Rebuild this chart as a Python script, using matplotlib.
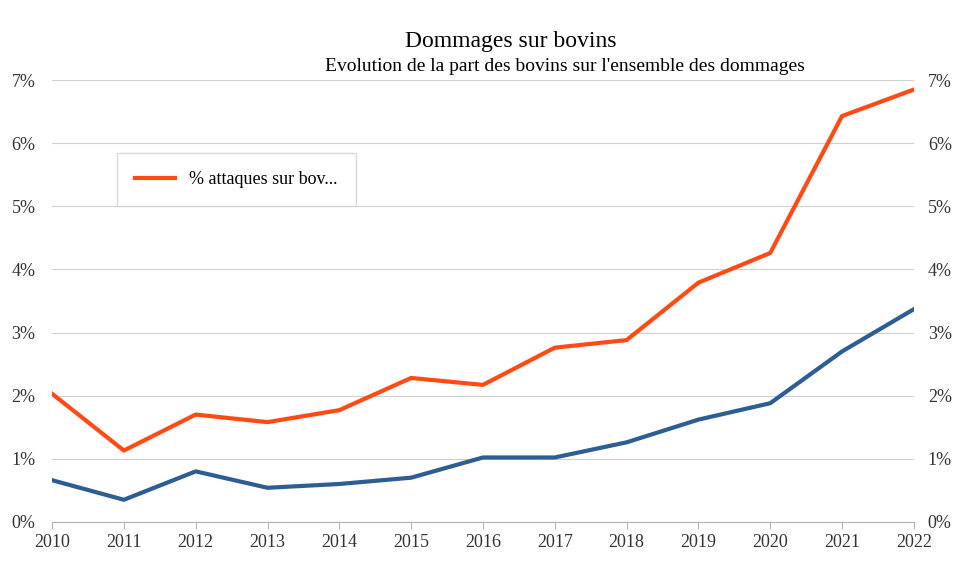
import matplotlib.pyplot as plt
from matplotlib.ticker import FuncFormatter

years = [2010, 2011, 2012, 2013, 2014, 2015, 2016, 2017, 2018, 2019, 2020, 2021, 2022]
pct_attaques = [2.03, 1.13, 1.70, 1.58, 1.77, 2.28, 2.17, 2.76, 2.88, 3.79, 4.26, 6.43, 6.85]
pct_bovins = [0.66, 0.35, 0.80, 0.54, 0.60, 0.70, 1.02, 1.02, 1.26, 1.62, 1.88, 2.70, 3.37]

plt.rcParams["font.family"] = ["Liberation Serif", "DejaVu Serif"]

fig = plt.figure(figsize=(9.64, 5.76), dpi=100)
ax = fig.add_axes([0.054, 0.094, 0.894, 0.767])

ax.plot(years, pct_attaques, color="#ff4a14", lw=3, label="% attaques sur bov...")
ax.plot(years, pct_bovins, color="#2c5d94", lw=3)

ax.set_xlim(2010, 2022)
ax.set_ylim(0, 7)
ax.set_xticks(years)
ax.set_yticks(range(0, 8))
fmt = FuncFormatter(lambda v, p: f"{int(v)}%")
ax.yaxis.set_major_formatter(fmt)
ax.grid(axis="y", color="#d0d0d0", lw=0.8)
ax.set_axisbelow(True)
for s in ["top", "right", "left"]:
    ax.spines[s].set_visible(False)
ax.spines["bottom"].set_color("#b0b0b0")
ax.tick_params(axis="y", length=0, labelsize=13, pad=12, colors="#333333")
ax.tick_params(axis="x", length=5, color="#b0b0b0", labelsize=13, colors="#333333")

ax2 = ax.twinx()
ax2.set_ylim(0, 7)
ax2.set_yticks(range(0, 8))
ax2.yaxis.set_major_formatter(fmt)
for s in ax2.spines.values():
    s.set_visible(False)
ax2.tick_params(axis="y", length=0, labelsize=13, pad=10, colors="#333333")

leg = ax.legend(loc="upper left", bbox_to_anchor=(0.065, 0.855), fontsize=13,
                frameon=True, fancybox=False, borderpad=1.0, handlelength=2.2)
leg.get_frame().set_edgecolor("#d0d0d0")

fig.text(0.53, 0.918, "Dommages sur bovins", ha="center", fontsize=17)
fig.text(0.586, 0.876, "Evolution de la part des bovins sur l'ensemble des dommages",
         ha="center", fontsize=14)

fig.savefig("out.png", dpi=100)
